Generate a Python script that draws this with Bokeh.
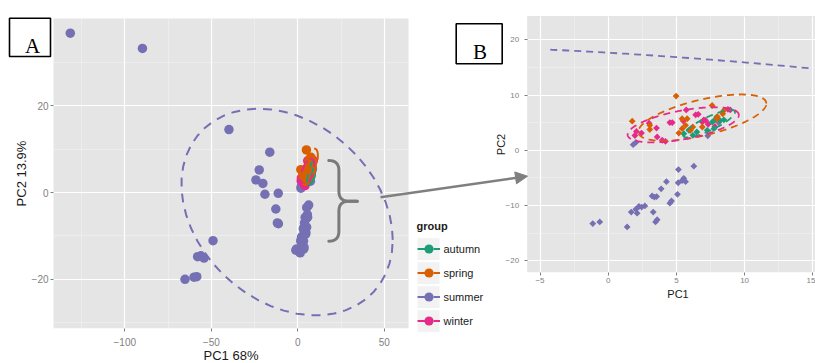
import numpy as np
from bokeh.plotting import figure
from bokeh.models import (Range1d, LinearAxis, FixedTicker, Grid, BoxAnnotation, Label,
                          Arrow, NormalHead, Legend, LegendItem)
from bokeh.embed import file_html
from bokeh.resources import INLINE

# ---------------- data (PCA scores) ----------------
groups = ["autumn", "spring", "summer", "winter"]
colors = ["#1B9E77", "#D95F02", "#7570B3", "#E7298A"]

autumn_x = [5.55, 5.92, 6.21, 6.5, 7.26, 7.63, 7.75, 7.82, 7.95, 8.19, 8.48]
autumn_y = [3.0, 3.6, 2.7, 3.3, 3.6, 5.1, 3.9, 5.5, 6.0, 5.4, 5.5]

spring_x = [1.76, 3.05, 3.05, 4.98, 5.18, 5.42, 5.42, 5.67, 5.79, 6.03, 6.2, 6.9, 7.62, 7.99, 8.0, 8.4, 8.48]
spring_y = [5.25, 3.75, 4.5, 9.8, 3.1, 5.7, 3.9, 4.5, 5.7, 3.6, 4.2, 4.2, 8.1, 5.7, 6.1, 6.6, 7.2]

summer_x = [-131.5, -89.8, -39.8, -16.2, -22.3, -24.2, -20.2, -19.0, -11.3, -12.7, -11.2, -11.8,
            -49.0, -57.9, -54.2, -56.0, -65.2, -60.0, -58.4,
            -1.13, -0.62, 1.39, 1.69, 2.03, 2.12, 2.25, 2.45, 2.69, 3.30, 3.22, 3.39, 3.55, 3.47,
            3.59, 3.88, 4.27, 4.52, 4.64, 5.08, 5.15, 5.13, 5.42, 5.54, 5.67, 6.28, 1.83, 2.03, 7.3, 8.1]
summer_y = [36.7, 33.2, 14.5, 9.3, 5.2, 2.9, 2.1, -0.4, -0.2, -3.8, -7.2, -7.0,
            -11.1, -14.8, -15.1, -14.6, -20.0, -19.5, -19.4,
            -13.3, -13.0, -13.9, -11.2, -10.7, -11.4, -10.2, -10.3, -10.1, -11.2, -8.3, -8.5, -8.4, -13.0,
            -12.6, -7.0, -5.7, -9.6, -9.2, -8.0, -3.5, -5.9, -5.5, -5.1, -5.7, -2.9, 1.0, 1.4, 2.6, 5.0]

winter_x = [1.96, 2.07, 2.44, 3.0, 3.54, 3.59, 3.96, 4.2, 4.52, 4.7, 5.5, 5.72, 6.41, 6.6, 6.9, 7.01,
            7.14, 7.33, 7.82, 8.78, 8.95]
winter_y = [2.66, 3.4, 3.1, 4.9, 4.0, 2.4, 1.8, 1.6, 5.0, 5.0, 5.3, 7.3, 6.4, 6.5, 5.1, 5.5,
            5.4, 4.7, 4.3, 7.4, 7.3]

# 95% data ellipses: centre and covariance terms per group
ell_cx = [7.4, 6.9, -6.2, 5.5]
ell_cy = [4.8, 5.9, -4.5, 4.6]
ell_sxx = [3.6, 22.0, 3730.0, 16.6]
ell_syy = [6.25, 17.6, 567.0, 10.1]
ell_sxy = [4.0, 12.0, -392.0, 7.2]

# axis breaks
left_xticks, left_xminor = [-100, -50, 0, 50], [-125, -75, -25, 25]
left_yticks, left_yminor = [-20, 0, 20], [-30, -10, 10, 30]
right_xticks, right_xminor = [-5, 0, 5, 10, 15], [-2.5, 2.5, 7.5, 12.5]
right_yticks, right_yminor = [-20, -10, 0, 10, 20], [-15, -5, 5, 15]
right_limits_x, right_limits_y = (-5, 15), (-20, 20)

xs_all = [autumn_x, spring_x, summer_x, winter_x]
ys_all = [autumn_y, spring_y, summer_y, winter_y]
point_order = [2, 3, 0, 1]

# ---------------- layout (pixel geometry) ----------------
W, H = 815, 363
OX, OY = 0, 0
LEFT = dict(x0=297.3, sx=1.73, y0=192.0, sy=4.34, xlim=(-141.2, 64.0), ylim=(-31.3, 40.1))
RIGHT = dict(x0=607.7, sx=13.64, y0=149.7, sy=5.52, xlim=(-5.94, 16.0), ylim=(-22.1, 24.3))


def ranges(P):
    xs = (OX - P["x0"]) / P["sx"]
    xe = (OX + W - P["x0"]) / P["sx"]
    ye = (P["y0"] - OY) / P["sy"]
    ys = (P["y0"] - (OY + H)) / P["sy"]
    return Range1d(xs, xe), Range1d(ys, ye)


def to_data(P, px, py):
    return (px - P["x0"]) / P["sx"], (P["y0"] - py) / P["sy"]


lxr, lyr = ranges(LEFT)
rxr, ryr = ranges(RIGHT)

p = figure(width=W, height=H, x_range=lxr, y_range=lyr, output_backend="svg",
           toolbar_location=None, x_axis_location=None, y_axis_location=None,
           min_border=0, background_fill_color="white", border_fill_color="white",
           outline_line_color=None)
p.extra_x_ranges = {"rx": rxr}
p.extra_y_ranges = {"ry": ryr}
p.center = []

FONT = "Liberation Sans"

# panel backgrounds
for P, xr, yr in ((LEFT, "default", "default"), (RIGHT, "rx", "ry")):
    p.add_layout(BoxAnnotation(left=P["xlim"][0], right=P["xlim"][1], bottom=P["ylim"][0],
                               top=P["ylim"][1], x_range_name=xr, y_range_name=yr,
                               fill_color="#E5E5E5", fill_alpha=1, line_color=None, level="image"))


def add_grid(P, xr, yr, xt, xm, yt, ym):
    for dim, major, minor in ((0, xt, xm), (1, yt, ym)):
        g = Grid(dimension=dim, ticker=FixedTicker(ticks=major, minor_ticks=minor),
                 x_range_name=xr, y_range_name=yr,
                 bounds=P["xlim"] if dim == 0 else P["ylim"],
                 grid_line_color="white", grid_line_width=1.2,
                 minor_grid_line_color="#F2F2F2", minor_grid_line_width=0.6)
        if "cross_bounds" in Grid.properties():
            g.cross_bounds = P["ylim"] if dim == 0 else P["xlim"]
        p.add_layout(g, "center")


add_grid(LEFT, "default", "default", left_xticks, left_xminor, left_yticks, left_yminor)
add_grid(RIGHT, "rx", "ry", right_xticks, right_xminor, right_yticks, right_yminor)


def add_axis(side, P, xr, yr, ticks, label, lab_px, title_px, tick_out, lab_off, title_off, bounds):
    ax = LinearAxis(x_range_name=xr, y_range_name=yr, ticker=FixedTicker(ticks=ticks),
                    axis_label=label,
                    fixed_location=P["ylim"][0] if side == "below" else P["xlim"][0],
                    bounds=bounds,
                    axis_line_color=None, minor_tick_line_color=None,
                    major_tick_line_color="#7F7F7F", major_tick_out=tick_out, major_tick_in=0,
                    major_label_text_font=FONT, major_label_text_font_size=lab_px,
                    major_label_text_color="#7F7F7F", major_label_standoff=lab_off,
                    axis_label_text_font=FONT, axis_label_text_font_size=title_px,
                    axis_label_text_font_style="normal", axis_label_text_color="#1a1a1a",
                    axis_label_standoff=title_off)
    p.add_layout(ax, side)


add_axis("below", LEFT, "default", "default", left_xticks, "PC1 68%", "10px", "13px", 3, 7, -2, LEFT["xlim"])
add_axis("left", LEFT, "default", "default", left_yticks, "PC2 13.9%", "10px", "13px", 3, 2, 0, LEFT["ylim"])
add_axis("below", RIGHT, "rx", "ry", right_xticks, "PC1", "8px", "11px", 3, 3, 1, (-5.0, 16.0))
add_axis("left", RIGHT, "rx", "ry", right_yticks, "PC2", "8px", "11px", 3, 5, -4, RIGHT["ylim"])


def ellipse(cx, cy, sxx, syy, sxy, n=52):
    t = np.linspace(0, 2 * np.pi, n)
    l00 = np.sqrt(sxx)
    l10 = sxy / l00
    l11 = np.sqrt(syy - l10 ** 2)
    return cx + l00 * np.cos(t), cy + l10 * np.cos(t) + l11 * np.sin(t)


def runs(x, y, keep):
    outx, outy, cx_, cy_ = [], [], [], []
    for xi, yi, k in zip(x, y, keep):
        if k:
            cx_.append(float(xi)); cy_.append(float(yi))
        elif cx_:
            outx.append(cx_); outy.append(cy_); cx_, cy_ = [], []
    if cx_:
        outx.append(cx_); outy.append(cy_)
    return outx, outy


# ---- left panel: points then ellipses
left_pts, left_ell = {}, {}
for i in point_order:
    left_pts[i] = p.scatter(xs_all[i], ys_all[i], marker="circle", size=9.5,
                            fill_color=colors[i], line_color=None)
for i, g in enumerate(groups):
    ex, ey = ellipse(ell_cx[i], ell_cy[i], ell_sxx[i], ell_syy[i], ell_sxy[i])
    left_ell[i] = p.line(ex, ey, line_color=colors[i], line_width=2, line_dash="9 7")

# ---- right panel (zoom; limits drop out-of-range values)
for i in point_order:
    x = np.array(xs_all[i]); y = np.array(ys_all[i])
    m = (x >= right_limits_x[0]) & (x <= right_limits_x[1]) & (y >= right_limits_y[0]) & (y <= right_limits_y[1])
    p.scatter(x[m], y[m], marker="square", angle=np.pi / 4, size=4.8, fill_color=colors[i],
              line_color=None, x_range_name="rx", y_range_name="ry")
for i, g in enumerate(groups):
    ex, ey = ellipse(ell_cx[i], ell_cy[i], ell_sxx[i], ell_syy[i], ell_sxy[i], n=721)
    keep = (ex >= right_limits_x[0]) & (ex <= right_limits_x[1]) & (ey >= right_limits_y[0]) & (ey <= right_limits_y[1])
    mx, my = runs(ex, ey, keep)
    p.multi_line(mx, my, line_color=colors[i], line_width=1.8, line_dash="7 5",
                 x_range_name="rx", y_range_name="ry")

# ---- legend (with grey key backgrounds)
LEG_X, LEG_BOTTOM, KEY, GAP = 416.5, 332.2, 23, 1
for r in range(len(groups)):
    top = LEG_BOTTOM - (len(groups) - r) * KEY - (len(groups) - 1 - r) * GAP
    x0, y0 = to_data(LEFT, LEG_X, top)
    x1, y1 = to_data(LEFT, LEG_X + KEY, top + KEY)
    p.add_layout(BoxAnnotation(left=x0, right=x1, top=y0, bottom=y1, fill_color="#F2F2F2",
                               fill_alpha=1, line_color="white", line_alpha=1, line_width=1))
items = [LegendItem(label=g, renderers=[left_pts[i], left_ell[i]]) for i, g in enumerate(groups)]
legend = Legend(items=items, location=(LEG_X - OX, OY + H - LEG_BOTTOM), title="group",
                title_text_font=FONT, title_text_font_size="11px", title_text_font_style="bold",
                title_text_color="#1a1a1a", title_standoff=5,
                label_text_font=FONT, label_text_font_size="11px", label_text_color="#1a1a1a",
                glyph_width=KEY, glyph_height=KEY, label_height=KEY, label_standoff=4, spacing=GAP,
                padding=0, margin=0, border_line_color=None, background_fill_alpha=0)
p.add_layout(legend, "center")

# ---- panel tags A / B
for (l, t, r, b), tag, (tx, ty) in (((9, 17.7, 50, 56), "A", (32, 45.7)),
                                     ((455.7, 23.3, 501.7, 63.3), "B", (479.5, 51.7))):
    x0, y0 = to_data(LEFT, l, t)
    x1, y1 = to_data(LEFT, r, b)
    p.add_layout(BoxAnnotation(left=x0, right=x1, top=y0, bottom=y1, fill_color="white",
                               fill_alpha=1, line_color="black", line_alpha=1, line_width=1.6))
    lx, ly = to_data(LEFT, tx, ty)
    p.add_layout(Label(x=lx, y=ly, text=tag, text_font="Liberation Serif", text_font_size="21px",
                       text_align="center", text_baseline="alphabetic", text_color="black"))


# ---- brace and arrow
def qcurve(p0, c, p1, n=10):
    t = np.linspace(0, 1, n)[:, None]
    a, c, b = np.array(p0), np.array(c), np.array(p1)
    return (1 - t) ** 2 * a + 2 * (1 - t) * t * c + t ** 2 * b


xe_, xs_, xt_ = 328.3, 338.4, 356.8
yt_, ym_, yb_, rr = 160.0, 200.7, 240.7, 10.0
upper = np.vstack([qcurve((xe_, yt_), (xs_, yt_), (xs_, yt_ + rr)),
                   qcurve((xs_, ym_ - rr), (xs_, ym_), (xs_ + rr, ym_)),
                   [[xt_, ym_]]])
lower = np.vstack([qcurve((xe_, yb_), (xs_, yb_), (xs_, yb_ - rr)),
                   qcurve((xs_, ym_ + rr), (xs_, ym_), (xs_ + rr, ym_)),
                   [[xt_, ym_]]])
bx, by = [], []
for seg in (upper, lower):
    d = [to_data(LEFT, px, py) for px, py in seg]
    bx.append([q[0] for q in d]); by.append([q[1] for q in d])
p.multi_line(bx, by, line_color="#7A7A7A", line_width=3, line_cap="round", line_join="round")

ax0, ay0 = to_data(LEFT, 380, 196.7)
ax1, ay1 = to_data(LEFT, 527, 175.7)
p.add_layout(Arrow(end=NormalHead(size=12, fill_color="#7F7F7F", line_color="#7F7F7F"),
                   x_start=ax0, y_start=ay0, x_end=ax1, y_end=ay1,
                   line_color="#7F7F7F", line_width=2.5))

open("out.html", "w").write(file_html(p, INLINE))
